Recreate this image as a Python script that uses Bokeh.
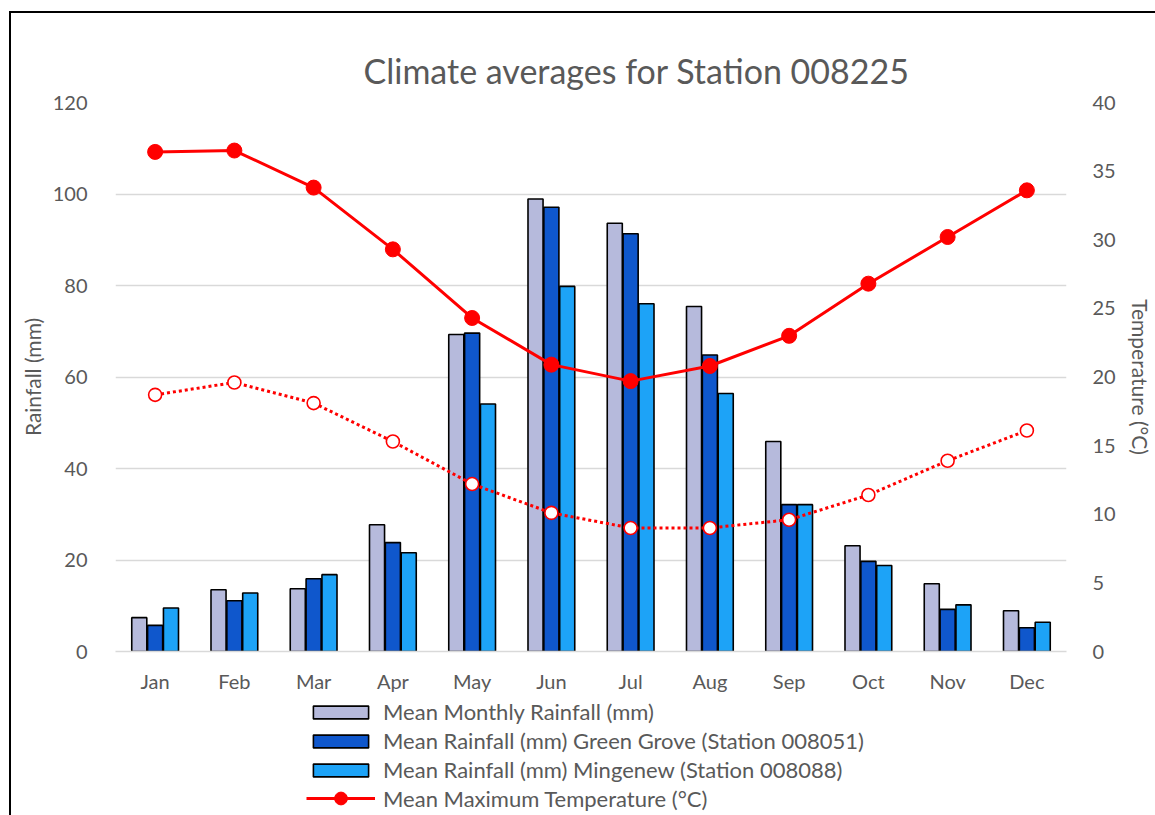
from bokeh.plotting import figure
from bokeh.layouts import column
from bokeh.models import (Range1d, LinearAxis, FactorRange, Legend, LegendItem,
                          Title, FixedTicker)
from bokeh.transform import dodge
from bokeh.embed import file_html
from bokeh.resources import INLINE

months = ["Jan", "Feb", "Mar", "Apr", "May", "Jun", "Jul", "Aug", "Sep", "Oct", "Nov", "Dec"]
rain_mean = [7.4, 13.5, 13.7, 27.7, 69.3, 98.9, 93.6, 75.4, 45.9, 23.1, 14.8, 8.9]
rain_green_grove = [5.7, 11.1, 15.9, 23.8, 69.6, 97.1, 91.3, 64.8, 32.1, 19.7, 9.2, 5.2]
rain_mingenew = [9.5, 12.8, 16.8, 21.6, 54.1, 79.8, 76.0, 56.4, 32.1, 18.8, 10.2, 6.4]
temp_max = [36.4, 36.5, 33.8, 29.3, 24.3, 20.9, 19.7, 20.8, 23.0, 26.8, 30.2, 33.6]
temp_min = [18.7, 19.6, 18.1, 15.3, 12.2, 10.1, 9.0, 9.0, 9.6, 11.4, 13.9, 16.1]
rain_ticks = [0, 20, 40, 60, 80, 100, 120]
temp_ticks = [0, 5, 10, 15, 20, 25, 30, 35, 40]
series_labels = ["Mean Monthly Rainfall (mm)",
                 "Mean Rainfall (mm) Green Grove (Station 008051)",
                 "Mean Rainfall (mm) Mingenew (Station 008088)",
                 "Mean Maximum Temperature (°C)"]

FONT = "Lato"
GREY = "#595959"
C_MEAN, C_GG, C_MG, C_RED = "#B6BADC", "#0F57CC", "#1DA3F7", "#FF0000"

data = dict(month=months, mean=rain_mean, gg=rain_green_grove, mg=rain_mingenew,
            tmax=temp_max, tmin=temp_min)

p = figure(frame_width=951, frame_height=549,
           x_range=FactorRange(*months), y_range=Range1d(0, 120),
           output_backend="svg", toolbar_location=None, title=None,
           min_border_left=115, min_border_right=89, min_border_top=102, min_border_bottom=39)
p.extra_y_ranges = {"temp": Range1d(0, 40)}
p.outline_line_color = None
p.border_fill_alpha = 0

w = 0.19
bar_style = dict(line_color="black", line_width=1.6)
p.vbar(x=dodge("month", -0.2, range=p.x_range), top="mean", width=w, source=data,
       fill_color=C_MEAN, **bar_style)
p.vbar(x=dodge("month", 0.0, range=p.x_range), top="gg", width=w, source=data,
       fill_color=C_GG, **bar_style)
p.vbar(x=dodge("month", 0.2, range=p.x_range), top="mg", width=w, source=data,
       fill_color=C_MG, **bar_style)

p.line(x="month", y="tmin", source=data, y_range_name="temp",
       line_color=C_RED, line_width=3, line_dash="3 3")
p.scatter(x="month", y="tmin", source=data, y_range_name="temp", size=13,
          fill_color="white", line_color=C_RED, line_width=1.6)
p.line(x="month", y="tmax", source=data, y_range_name="temp",
       line_color=C_RED, line_width=3)
p.scatter(x="month", y="tmax", source=data, y_range_name="temp", size=15,
          fill_color=C_RED, line_color=C_RED)

# axes
p.xaxis.axis_line_color = "#D9D9D9"
p.xaxis.axis_line_width = 1.5
p.xaxis.major_tick_line_color = None
p.xaxis.minor_tick_line_color = None
p.xaxis.major_label_text_font = FONT
p.xaxis.major_label_text_font_size = "20px"
p.xaxis.major_label_text_color = GREY
p.xaxis.major_label_standoff = 11

p.yaxis.ticker = FixedTicker(ticks=rain_ticks)
p.yaxis.axis_line_color = None
p.yaxis.major_tick_line_color = None
p.yaxis.minor_tick_line_color = None
p.yaxis.major_label_text_font = FONT
p.yaxis.major_label_text_font_size = "20px"
p.yaxis.major_label_text_color = GREY
p.yaxis.major_label_standoff = 22
p.yaxis.axis_label = "Rainfall (mm)"
p.yaxis.axis_label_text_font = FONT
p.yaxis.axis_label_text_font_size = "21px"
p.yaxis.axis_label_text_font_style = "normal"
p.yaxis.axis_label_text_color = GREY
p.yaxis.axis_label_standoff = 5

ax2 = LinearAxis(y_range_name="temp", ticker=FixedTicker(ticks=temp_ticks),
                 axis_label="Temperature (°C)")
ax2.axis_line_color = None
ax2.major_tick_line_color = None
ax2.minor_tick_line_color = None
ax2.major_label_text_font = FONT
ax2.major_label_text_font_size = "20px"
ax2.major_label_text_color = GREY
ax2.major_label_standoff = 20
ax2.axis_label_text_font = FONT
ax2.axis_label_text_font_size = "21px"
ax2.axis_label_text_font_style = "normal"
ax2.axis_label_text_color = GREY
ax2.axis_label_standoff = 9
p.add_layout(ax2, "right")

p.xgrid.grid_line_color = None
p.ygrid.grid_line_color = "#D9D9D9"
p.ygrid.grid_line_width = 1.5

title = Title(text="Climate averages for Station 008225", text_font=FONT,
              text_font_size="34px", text_color=GREY, text_font_style="normal",
              align="left", offset=248, standoff=23)
p.add_layout(title, "above")

# legend strip below the chart; hidden proxy renderers carry the series styles
lf = figure(width=1155, height=120, x_range=Range1d(0, 1), y_range=Range1d(0, 1),
            output_backend="svg", toolbar_location=None, x_axis_type=None, y_axis_type=None,
            min_border=0)
lf.outline_line_color = None
lf.border_fill_alpha = 0
lf.background_fill_alpha = 0
lf.xgrid.grid_line_color = None
lf.ygrid.grid_line_color = None
g1 = lf.vbar(x=[0], top=[rain_mean[0]], width=0.1, fill_color=C_MEAN, visible=False, **bar_style)
g2 = lf.vbar(x=[0], top=[rain_green_grove[0]], width=0.1, fill_color=C_GG, visible=False, **bar_style)
g3 = lf.vbar(x=[0], top=[rain_mingenew[0]], width=0.1, fill_color=C_MG, visible=False, **bar_style)
g4 = lf.line(x=[0], y=[temp_max[0]], line_color=C_RED, line_width=3, visible=False)
g5 = lf.scatter(x=[0], y=[temp_max[0]], fill_color=C_RED, line_color=C_RED, visible=False)


def style_legend(lg, gh):
    lg.padding = 0
    lg.margin = 0
    lg.border_line_color = None
    lg.background_fill_alpha = 0
    lg.inactive_fill_alpha = 0
    lg.glyph_width = 69
    lg.glyph_height = gh
    lg.label_height = 26
    lg.spacing = 2
    lg.label_standoff = 8
    lg.label_text_font = FONT
    lg.label_text_font_size = "22px"
    lg.label_text_color = GREY


leg_a = Legend(items=[LegendItem(label=series_labels[0], renderers=[g1]),
                      LegendItem(label=series_labels[1], renderers=[g2]),
                      LegendItem(label=series_labels[2], renderers=[g3])],
               location=(191, 32), orientation="vertical")
style_legend(leg_a, 16)
leg_b = Legend(items=[LegendItem(label=series_labels[3], renderers=[g4, g5])],
               location=(191, 1), orientation="vertical")
style_legend(leg_b, 32)
lf.add_layout(leg_a, "center")
lf.add_layout(leg_b, "center")

layout = column(p, lf, spacing=0)
layout.styles = {"background": "linear-gradient(#000,#000) 9px 11px / 2px 100% no-repeat, "
                               "linear-gradient(#000,#000) 9px 11px / 100% 2px no-repeat, #ffffff"}

open("out.html", "w").write(file_html(layout, INLINE))
